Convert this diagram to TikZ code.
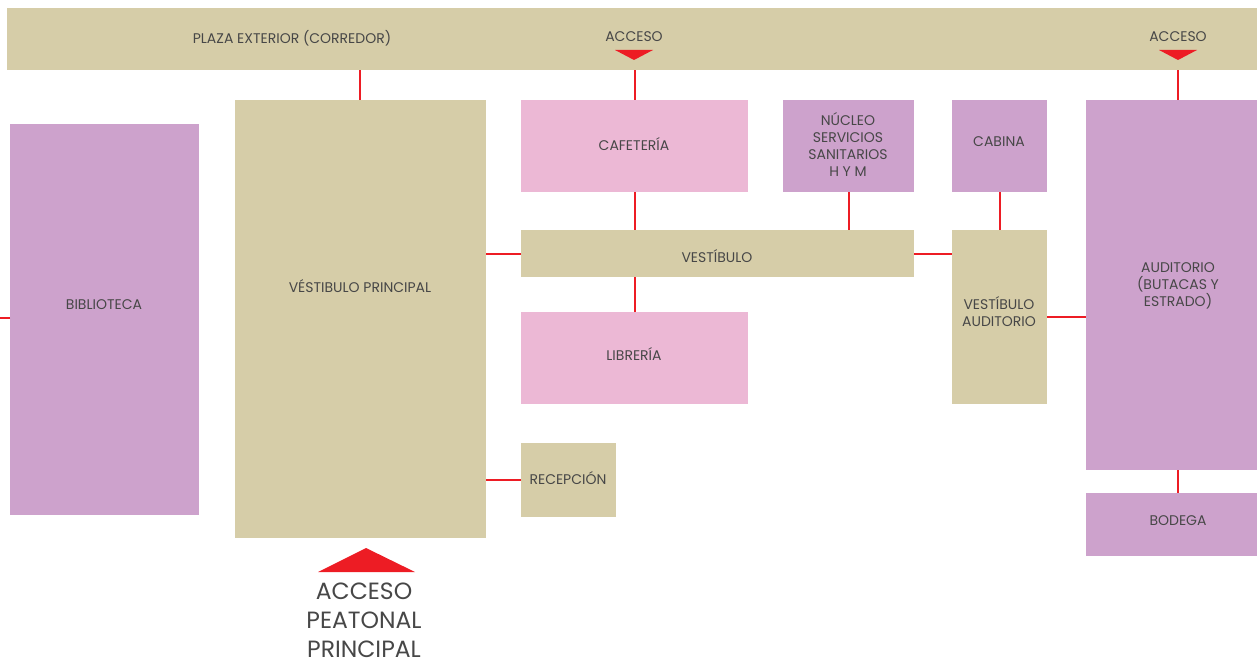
\documentclass[tikz,border=0pt]{standalone}
\usepackage{fontspec}
\setmainfont{Poppins}
\usetikzlibrary{positioning,calc}
\definecolor{arena}{HTML}{D6CDA8}
\definecolor{lila}{HTML}{CDA2CC}
\definecolor{rosa}{HTML}{ECB8D5}
\definecolor{rojo}{HTML}{ED1C24}
\definecolor{texto}{HTML}{474747}

\begin{document}
\begin{tikzpicture}[
    x=1pt,y=-1pt,
    zona/.style={rectangle,inner sep=0pt,anchor=north west,align=center,
                 text=texto,font=\fontsize{14}{17}\selectfont},
    sala/.style={zona,fill=arena},
    priv/.style={zona,fill=lila},
    serv/.style={zona,fill=rosa},
    lbl/.style={text=texto,font=\fontsize{14}{17}\selectfont,inner sep=0pt},
    fl/.style={rojo,line width=2pt},
]
\useasboundingbox (0,0) rectangle (1257,663);
\clip (0,0) rectangle (1257,663);

% corredor exterior
\node[sala,minimum width=1263,minimum height=62] (plaza) at (7,8) {};
\node[lbl] (tplaza) at (292,38) {PLAZA EXTERIOR (CORREDOR)};
\node[lbl] (acc1) at (634,37) {ACCESO};
\node[lbl] (acc2) at (1178,37) {ACCESO};
\fill[rojo] ($(acc1)+(-19,13)$) -- ($(acc1)+(19,13)$) -- ($(acc1)+(0,23)$) -- cycle;
\fill[rojo] ($(acc2)+(-19,13)$) -- ($(acc2)+(19,13)$) -- ($(acc2)+(0,23)$) -- cycle;

% recintos
\node[priv,minimum width=189,minimum height=391] (bib) at (10,124) {};
\node[lbl] (tbib) at (104,305) {BIBLIOTECA};
\node[sala,minimum width=251,minimum height=438] (vp) at (235,100) {};
\node[lbl] (tvp) at (360,286) {VÉSTIBULO PRINCIPAL};
\node[serv,minimum width=227,minimum height=92] (cafe) at (521,100) {};
\node[lbl] (tcafe) at (634,144) {CAFETERÍA};
\node[priv,minimum width=131,minimum height=92] (nuc) at (783,100) {};
\node[lbl,align=center] (tnuc) at (848,145) {NÚCLEO\\SERVICIOS\\SANITARIOS\\H Y M};
\node[priv,minimum width=95,minimum height=92] (cab) at (952,100) {};
\node[lbl] (tcab) at (999,142) {CABINA};
\node[sala,minimum width=393,minimum height=47] (vest) at (521,230) {};
\node[lbl] (tvest) at (717,256) {VESTÍBULO};
\node[sala,minimum width=95,minimum height=174] (vaud) at (952,230) {};
\node[lbl,align=center] (tvaud) at (999,312) {VESTÍBULO\\AUDITORIO};
\node[priv,minimum width=184,minimum height=370] (aud) at (1086,100) {};
\node[lbl,align=center] (taud) at (1178,286) {AUDITORIO\\(BUTACAS Y\\ESTRADO)};
\node[serv,minimum width=227,minimum height=92] (lib) at (521,312) {};
\node[lbl] (tlib) at (634,354) {LIBRERÍA};
\node[sala,minimum width=95,minimum height=74] (rec) at (521,443) {};
\node[lbl] (trec) at (568,478) {RECEPCIÓN};
\node[priv,minimum width=184,minimum height=63] (bod) at (1086,493) {};
\node[lbl] (tbod) at (1178,521) {BODEGA};

% acceso peatonal
\node[text=texto,font=\fontsize{23.5}{29}\selectfont,align=center,inner sep=0pt]
  (accp) at (364,620) {ACCESO\\PEATONAL\\PRINCIPAL};
\fill[rojo] (318,572) -- (415,572) -- (366,548) -- cycle;

% relaciones
\draw[fl] (vp.north -| tvp) -- (plaza.south -| tvp);
\draw[fl] (cafe.north) -- (cafe.north |- plaza.south);
\draw[fl] (aud.north) -- (aud.north |- plaza.south);
\draw[fl] (cafe.south) -- (cafe.south |- vest.north);
\draw[fl] (nuc.south) -- (nuc.south |- vest.north);
\draw[fl] (cab.south) -- (cab.south |- vaud.north);
\draw[fl] (lib.north) -- (lib.north |- vest.south);
\draw[fl] (vest.west) -- (vest.west -| vp.east);
\draw[fl] (vest.east) -- (vest.east -| vaud.west);
\draw[fl] (vaud.east) -- (vaud.east -| aud.west);
\draw[fl] (rec.west) -- (rec.west -| vp.east);
\draw[fl] (aud.south) -- (bod.north);
\coordinate (borde) at (0,318);
\draw[fl] (bib.west |- borde) -- (borde);

\end{tikzpicture}
\end{document}
